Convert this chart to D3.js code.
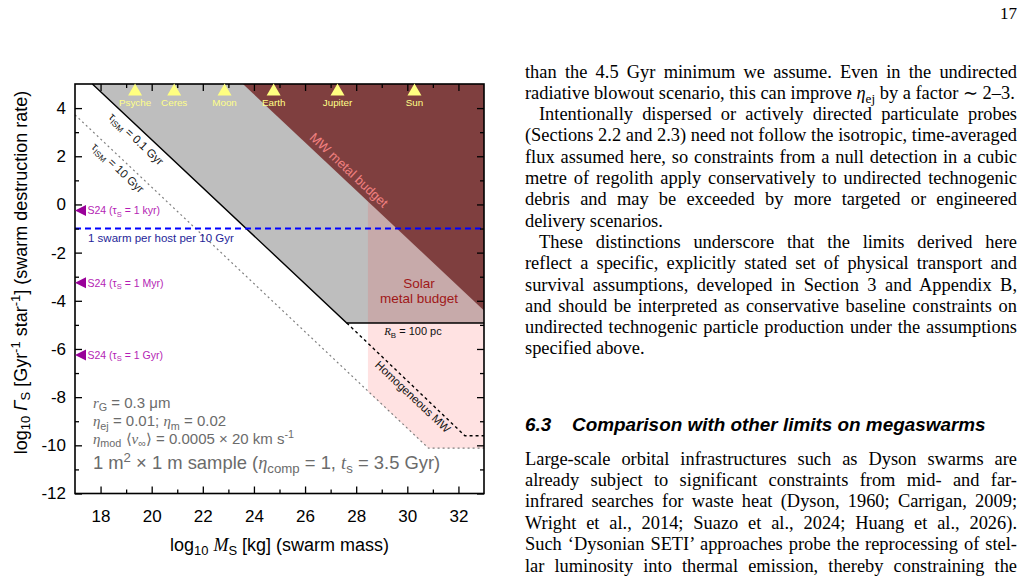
<!DOCTYPE html>
<html>
<head>
<meta charset="utf-8">
<script src="https://cdn.jsdelivr.net/npm/d3@7"></script>
<style>
body { margin: 0; background: #fff; }
svg { display: block; font-family: "Liberation Sans", Arial, sans-serif; }
</style>
</head>
<body>
<script>
// ticks
var xTicks = [18, 20, 22, 24, 26, 28, 30, 32];
var xMinor = [19, 21, 23, 25, 27, 29, 31];
var yTicks = [-12, -10, -8, -6, -4, -2, 0, 2, 4];
var yMinor = [-11, -9, -7, -5, -3, -1, 1, 3];

// reference bodies along the top (log10 mass, kg)
var bodyNames = ["Psyche", "Ceres", "Moon", "Earth", "Jupiter", "Sun"];
var bodyMass = [19.35, 20.88, 22.85, 24.77, 27.27, 30.28];

// S24 markers on the left edge
var s24Names = ["1 kyr", "1 Myr", "1 Gyr"];
var s24Rate = [-0.25, -3.25, -6.25];

// boundaries (log10 M, log10 rate)
var fastX = [17.68, 27.63, 33], fastY = [5, -4.92, -4.92];      // tau_ISM = 0.1 Gyr, then R_B = 100 pc
var slowX = [17, 30.83, 33], slowY = [3.72, -10.12, -10.12];    // tau_ISM = 10 Gyr
var homX = [27.63, 32.25, 33], homY = [-4.92, -9.6, -9.6];      // homogeneous MW
var mwX = [23.57, 33, 33], mwY = [5, 5, -4.4];                   // MW metal budget
var solarX = [28.46, 33, 33, 30.83, 28.46], solarY = [5, 5, -10.12, -10.12, -7.78];
var hostRate = -1;

// right-hand column: [text, indent, justify]
var colTop = [
  ["than the 4.5 Gyr minimum we assume. Even in the undirected", 0, 1],
  ["radiative blowout scenario, this can improve ${η}_{ej} by a factor ∼ 2–3.", 0, 0],
  ["Intentionally dispersed or actively directed particulate probes", 1, 1],
  ["(Sections 2.2 and 2.3) need not follow the isotropic, time-averaged", 0, 1],
  ["flux assumed here, so constraints from a null detection in a cubic", 0, 1],
  ["metre of regolith apply conservatively to undirected technogenic", 0, 1],
  ["debris and may be exceeded by more targeted or engineered", 0, 1],
  ["delivery scenarios.", 0, 0],
  ["These distinctions underscore that the limits derived here", 1, 1],
  ["reflect a specific, explicitly stated set of physical transport and", 0, 1],
  ["survival assumptions, developed in Section 3 and Appendix B,", 0, 1],
  ["and should be interpreted as conservative baseline constraints on", 0, 1],
  ["undirected technogenic particle production under the assumptions", 0, 1],
  ["specified above.", 0, 0]
];
var colBottom = [
  ["Large-scale orbital infrastructures such as Dyson swarms are", 0, 1],
  ["already subject to significant constraints from mid- and far-", 0, 1],
  ["infrared searches for waste heat (Dyson, 1960; Carrigan, 2009;", 0, 1],
  ["Wright et al., 2014; Suazo et al., 2024; Huang et al., 2026).", 0, 1],
  ["Such ‘Dysonian SETI’ approaches probe the reprocessing of stel-", 0, 1],
  ["lar luminosity into thermal emission, thereby constraining the", 0, 1]
];

var svg = d3.select("body").append("svg")
    .attr("width", 1029)
    .attr("height", 579);

var x = d3.scaleLinear().domain([17, 33]).range([75, 484]);
var y = d3.scaleLinear().domain([-12, 5]).range([493.5, 84]);
var xMax = x.domain()[1], yMax = y.domain()[1];

var line = d3.line()
    .x(function(d) { return x(d[0]); })
    .y(function(d) { return y(d[1]); });
function pts(xs, ys) { return xs.map(function(v, i) { return [v, ys[i]]; }); }

// simple markup: _{sub} ^{sup} ${italic serif} ~{italic}
function rich(t, str, fs) {
  var parts = str.split(/(_\{[^}]*\}|\^\{[^}]*\}|\$\{[^}]*\}|~\{[^}]*\})/).filter(function(s) { return s.length; });
  var shift = 0;
  parts.forEach(function(p) {
    var ts = t.append("tspan"), d = 0;
    var tag = p.length > 2 && p[1] === "{" ? p[0] : null;
    if (tag === "_") { d = 0.22 * fs; ts.attr("font-size", fs * 0.72).text(p.slice(2, -1)); }
    else if (tag === "^") { d = -0.38 * fs; ts.attr("font-size", fs * 0.72).text(p.slice(2, -1)); }
    else if (tag === "$") { ts.attr("font-style", "italic").attr("font-family", "'Liberation Serif', serif").text(p.slice(2, -1)); }
    else if (tag === "~") { ts.attr("font-style", "italic").text(p.slice(2, -1)); }
    else ts.text(p);
    if (d - shift !== 0) ts.attr("dy", d - shift);
    shift = d;
  });
  return t;
}

// shaded regions
svg.append("path")
    .attr("d", line(pts(fastX, fastY).concat([[xMax, yMax]])) + "Z")
    .attr("fill", "#bebebe");
svg.append("path")
    .attr("d", line(pts(solarX, solarY)) + "Z")
    .attr("fill", "#ff3030")
    .attr("fill-opacity", 0.14);
svg.append("path")
    .attr("d", line(pts(mwX, mwY)) + "Z")
    .attr("fill", "#7f3f3f");

// boundary lines
svg.append("path")
    .attr("d", line(pts(slowX, slowY)))
    .attr("fill", "none").attr("stroke", "#808080")
    .attr("stroke-width", 1.2).attr("stroke-dasharray", "2,3");
svg.append("path")
    .attr("d", line(pts(homX, homY)))
    .attr("fill", "none").attr("stroke", "#000")
    .attr("stroke-width", 1.4).attr("stroke-dasharray", "3,3");
svg.append("path")
    .attr("d", line(pts(fastX, fastY)))
    .attr("fill", "none").attr("stroke", "#000")
    .attr("stroke-width", 1.4);
svg.append("path")
    .attr("d", line([[x.domain()[0], hostRate], [xMax, hostRate]]))
    .attr("fill", "none").attr("stroke", "#0000ff")
    .attr("stroke-width", 2).attr("stroke-dasharray", "6,4");

// axes
function addAxis(axis, tx, ty) {
  var g = svg.append("g")
      .attr("transform", "translate(" + tx + "," + ty + ")")
      .call(axis);
  g.select(".domain").remove();
  g.selectAll("line").attr("stroke", "#000").attr("stroke-width", 1.3);
  g.selectAll("text")
      .attr("font-family", "'Liberation Sans', Arial, sans-serif")
      .attr("font-size", 17)
      .attr("fill", "#000");
  return g;
}
var fmt = function(d) { return String(d); };
addAxis(d3.axisBottom(x).tickValues(xTicks).tickSizeInner(-7).tickSizeOuter(0).tickPadding(16).tickFormat(fmt), 0, y(-12));
addAxis(d3.axisBottom(x).tickValues(xMinor).tickSizeInner(-4).tickSizeOuter(0).tickFormat(""), 0, y(-12));
addAxis(d3.axisTop(x).tickValues(xTicks).tickSizeInner(-7).tickSizeOuter(0).tickFormat(""), 0, y(5));
addAxis(d3.axisTop(x).tickValues(xMinor).tickSizeInner(-4).tickSizeOuter(0).tickFormat(""), 0, y(5));
addAxis(d3.axisLeft(y).tickValues(yTicks).tickSizeInner(-7).tickSizeOuter(0).tickPadding(9).tickFormat(fmt), x(17), 0);
addAxis(d3.axisLeft(y).tickValues(yMinor).tickSizeInner(-4).tickSizeOuter(0).tickFormat(""), x(17), 0);
addAxis(d3.axisRight(y).tickValues(yTicks).tickSizeInner(-7).tickSizeOuter(0).tickFormat(""), x(33), 0);
addAxis(d3.axisRight(y).tickValues(yMinor).tickSizeInner(-4).tickSizeOuter(0).tickFormat(""), x(33), 0);

// frame
svg.append("rect")
    .attr("x", x(17)).attr("y", y(5))
    .attr("width", x(33) - x(17)).attr("height", y(-12) - y(5))
    .attr("fill", "none").attr("stroke", "#000").attr("stroke-width", 1.6);

// reference bodies
var bodies = svg.append("g").selectAll("g")
    .data(bodyNames)
    .enter().append("g")
    .attr("transform", function(d, i) { return "translate(" + x(bodyMass[i]) + "," + y(yMax) + ")"; });
bodies.append("path")
    .attr("d", "M0,-0.5L7,11.5L-7,11.5Z")
    .attr("fill", "#ffff80");
bodies.append("text")
    .attr("y", 22)
    .attr("text-anchor", "middle")
    .attr("font-size", 9.8)
    .attr("fill", "#ffff88")
    .text(function(d) { return d; });

// S24 markers
var s24 = svg.append("g").selectAll("g")
    .data(s24Names)
    .enter().append("g")
    .attr("transform", function(d, i) { return "translate(" + x(17) + "," + y(s24Rate[i]) + ")"; });
s24.append("path")
    .attr("d", "M0,0L11,-5.5L11,5.5Z")
    .attr("fill", "#990099");
s24.each(function(d) {
  rich(d3.select(this).append("text")
      .attr("x", 12.5).attr("y", 3.8)
      .attr("font-size", 10.5)
      .attr("fill", "#b41eb4"), "S24 (τ_{S} = " + d + ")", 10.5);
});

// host line label
svg.append("text")
    .attr("x", x(17.51)).attr("y", y(-1.54))
    .attr("font-size", 11.5)
    .attr("fill", "#1f1f99")
    .text("1 swarm per host per 10 Gyr");

// rotated labels
var ang = Math.atan2(y(-1) - y(0), x(1) - x(0)) * 180 / Math.PI;
function rotLabel(px, py, str, fs, col) {
  var t = svg.append("text")
      .attr("transform", "translate(" + x(px) + "," + y(py) + ") rotate(" + ang + ")")
      .attr("text-anchor", "middle")
      .attr("dy", "0.35em")
      .attr("font-size", fs)
      .attr("fill", col);
  rich(t, str, fs);
}
rotLabel(19.40, 2.72, "τ_{ISM} = 0.1 Gyr", 11.5, "#111");
rotLabel(18.68, 1.52, "τ_{ISM} = 10 Gyr", 11.5, "#222");
rotLabel(27.72, 1.43, "MW metal budget", 13, "#f08080");
rotLabel(30.22, -7.98, "Homogeneous MW", 11.5, "#111");

svg.append("text")
    .attr("x", x(30.46)).attr("y", y(-3.29)).attr("dy", "0.35em")
    .attr("text-anchor", "middle").attr("font-size", 13.5).attr("fill", "#a01818")
    .text("Solar");
svg.append("text")
    .attr("x", x(30.46)).attr("y", y(-3.91)).attr("dy", "0.35em")
    .attr("text-anchor", "middle").attr("font-size", 13.5).attr("fill", "#a01818")
    .text("metal budget");
rich(svg.append("text")
    .attr("x", x(30.22)).attr("y", y(-5.28)).attr("dy", "0.35em")
    .attr("text-anchor", "middle").attr("font-size", 11).attr("fill", "#111"),
    "${R}_{B} = 100 pc", 11);

// parameter notes
var notes = [
  "${r}_{G} = 0.3 μm",
  "${η}_{ej} = 0.01; ${η}_{m} = 0.02",
  "${η}_{mod} ⟨${v}_{∞}⟩ = 0.0005 × 20 km s^{-1}",
  "1 m^{2} × 1 m sample (${η}_{comp} = 1, ${t}_{s} = 3.5 Gyr)"
];
var noteY = [-8.43, -9.21, -9.93, -11.0];
var noteSize = [15, 15, 15, 18.4];
notes.forEach(function(s, i) {
  rich(svg.append("text")
      .attr("x", x(17.70)).attr("y", y(noteY[i]))
      .attr("font-size", noteSize[i])
      .attr("fill", "#6b6b6b"), s, noteSize[i]);
});

// axis titles
rich(svg.append("text")
    .attr("x", (x(17) + x(33)) / 2).attr("y", 551)
    .attr("text-anchor", "middle").attr("font-size", 18),
    "log_{10} ${M}_{S} [kg] (swarm mass)", 18);
rich(svg.append("text")
    .attr("transform", "translate(26.5," + 272.5 + ") rotate(-90)")
    .attr("text-anchor", "middle").attr("font-size", 18),
    "log_{10} ~{Γ}_{S} [Gyr^{-1} star^{-1}] (swarm destruction rate)", 18);

// page number
svg.append("text")
    .attr("x", 1017).attr("y", 19)
    .attr("text-anchor", "end")
    .attr("font-family", "'Liberation Serif', serif")
    .attr("font-size", 17)
    .text("17");

// right column text
var colLeft = 525, colWidth = 492, bodySize = 18.4;
function writeLines(rows, y0, step) {
  rows.forEach(function(r, i) {
    var t = svg.append("text")
        .attr("x", colLeft + (r[1] ? 14 : 0))
        .attr("y", y0 + i * step)
        .attr("font-family", "'Liberation Serif', 'Times New Roman', serif")
        .attr("font-size", bodySize)
        .attr("fill", "#000");
    rich(t, r[0], bodySize);
    if (r[2]) {
      var n = t.node();
      var w = n.getComputedTextLength();
      var spaces = (n.textContent.match(/ /g) || []).length;
      if (spaces) t.attr("word-spacing", (colWidth - (r[1] ? 14 : 0) - w) / spaces);
    }
  });
}
writeLines(colTop, 77.5, 21.3);
writeLines(colBottom, 464.5, 21.4);

svg.append("text")
    .attr("x", colLeft).attr("y", 430.5)
    .attr("font-size", 18.9).attr("font-weight", "bold").attr("font-style", "italic")
    .text("6.3");
svg.append("text")
    .attr("x", 572).attr("y", 430.5)
    .attr("font-size", 18.9).attr("font-weight", "bold").attr("font-style", "italic")
    .text("Comparison with other limits on megaswarms");
</script>
</body>
</html>
